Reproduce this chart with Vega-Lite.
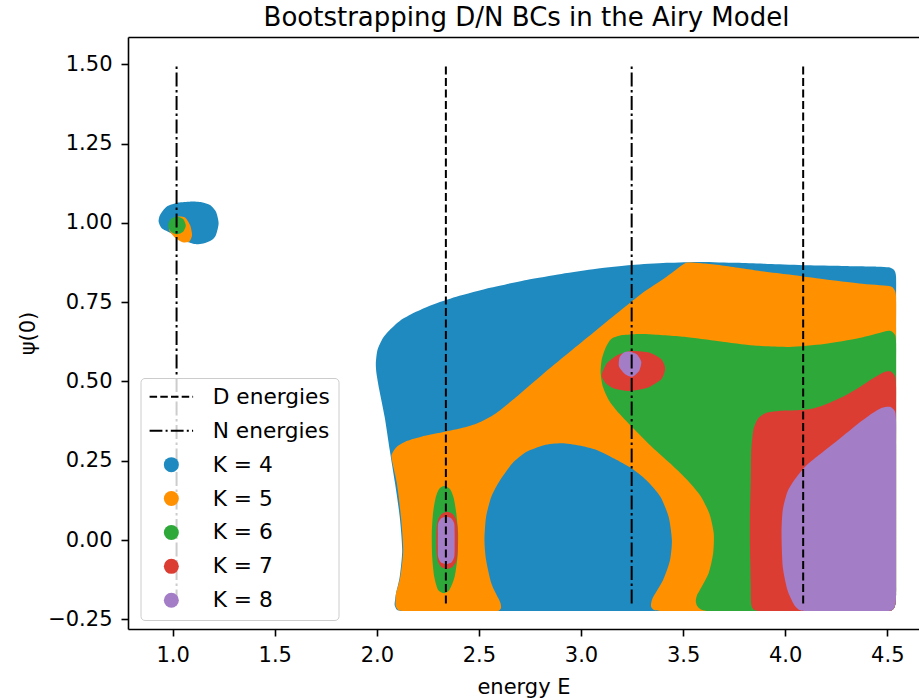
{
  "$schema": "https://vega.github.io/schema/vega-lite/v6.json",
  "autosize": "none",
  "width": 791,
  "height": 592,
  "padding": {"left": 128, "top": 37, "right": 0, "bottom": 71},
  "background": "white",
  "title": {"text": "Bootstrapping D/N BCs in the Airy Model", "font": "DejaVu Sans", "fontSize": 26, "fontWeight": "normal", "color": "black", "offset": 6, "dx": 3},
  "datasets": {
    "regions": [
      {"label":"K = 4","piece":"main","i":0,"E":2.098,"psi":-0.220},
      {"label":"K = 4","piece":"main","i":1,"E":2.087,"psi":-0.205},
      {"label":"K = 4","piece":"main","i":2,"E":2.090,"psi":-0.185},
      {"label":"K = 4","piece":"main","i":3,"E":2.094,"psi":-0.168},
      {"label":"K = 4","piece":"main","i":4,"E":2.112,"psi":-0.116},
      {"label":"K = 4","piece":"main","i":5,"E":2.124,"psi":-0.032},
      {"label":"K = 4","piece":"main","i":6,"E":2.112,"psi":0.073},
      {"label":"K = 4","piece":"main","i":7,"E":2.089,"psi":0.179},
      {"label":"K = 4","piece":"main","i":8,"E":2.063,"psi":0.284},
      {"label":"K = 4","piece":"main","i":9,"E":2.038,"psi":0.389},
      {"label":"K = 4","piece":"main","i":10,"E":2.012,"psi":0.473},
      {"label":"K = 4","piece":"main","i":11,"E":1.998,"psi":0.526},
      {"label":"K = 4","piece":"main","i":12,"E":1.995,"psi":0.557},
      {"label":"K = 4","piece":"main","i":13,"E":2.003,"psi":0.599},
      {"label":"K = 4","piece":"main","i":14,"E":2.029,"psi":0.636},
      {"label":"K = 4","piece":"main","i":15,"E":2.063,"psi":0.662},
      {"label":"K = 4","piece":"main","i":16,"E":2.115,"psi":0.692},
      {"label":"K = 4","piece":"main","i":17,"E":2.184,"psi":0.717},
      {"label":"K = 4","piece":"main","i":18,"E":2.269,"psi":0.741},
      {"label":"K = 4","piece":"main","i":19,"E":2.389,"psi":0.767},
      {"label":"K = 4","piece":"main","i":20,"E":2.561,"psi":0.796},
      {"label":"K = 4","piece":"main","i":21,"E":2.733,"psi":0.820},
      {"label":"K = 4","piece":"main","i":22,"E":2.904,"psi":0.839},
      {"label":"K = 4","piece":"main","i":23,"E":3.076,"psi":0.855},
      {"label":"K = 4","piece":"main","i":24,"E":3.247,"psi":0.867},
      {"label":"K = 4","piece":"main","i":25,"E":3.419,"psi":0.874},
      {"label":"K = 4","piece":"main","i":26,"E":3.590,"psi":0.877},
      {"label":"K = 4","piece":"main","i":27,"E":3.762,"psi":0.874},
      {"label":"K = 4","piece":"main","i":28,"E":3.934,"psi":0.870},
      {"label":"K = 4","piece":"main","i":29,"E":4.105,"psi":0.866},
      {"label":"K = 4","piece":"main","i":30,"E":4.277,"psi":0.864},
      {"label":"K = 4","piece":"main","i":31,"E":4.448,"psi":0.862},
      {"label":"K = 4","piece":"main","i":32,"E":4.508,"psi":0.860},
      {"label":"K = 4","piece":"main","i":33,"E":4.534,"psi":0.851},
      {"label":"K = 4","piece":"main","i":34,"E":4.543,"psi":0.830},
      {"label":"K = 4","piece":"main","i":35,"E":4.543,"psi":0.75},
      {"label":"K = 4","piece":"main","i":36,"E":4.543,"psi":0.67},
      {"label":"K = 4","piece":"main","i":37,"E":4.543,"psi":0.59},
      {"label":"K = 4","piece":"main","i":38,"E":4.543,"psi":0.51},
      {"label":"K = 4","piece":"main","i":39,"E":4.543,"psi":0.43},
      {"label":"K = 4","piece":"main","i":40,"E":4.543,"psi":0.35},
      {"label":"K = 4","piece":"main","i":41,"E":4.543,"psi":0.27},
      {"label":"K = 4","piece":"main","i":42,"E":4.543,"psi":0.19},
      {"label":"K = 4","piece":"main","i":43,"E":4.543,"psi":0.11},
      {"label":"K = 4","piece":"main","i":44,"E":4.543,"psi":0.03},
      {"label":"K = 4","piece":"main","i":45,"E":4.543,"psi":-0.05},
      {"label":"K = 4","piece":"main","i":46,"E":4.543,"psi":-0.12},
      {"label":"K = 4","piece":"main","i":47,"E":4.543,"psi":-0.17},
      {"label":"K = 4","piece":"main","i":48,"E":4.541,"psi":-0.198},
      {"label":"K = 4","piece":"main","i":49,"E":4.533,"psi":-0.215},
      {"label":"K = 4","piece":"main","i":50,"E":4.515,"psi":-0.223},
      {"label":"K = 4","piece":"main","i":51,"E":4.47,"psi":-0.224},
      {"label":"K = 4","piece":"main","i":52,"E":4.40,"psi":-0.224},
      {"label":"K = 4","piece":"main","i":53,"E":4.32,"psi":-0.224},
      {"label":"K = 4","piece":"main","i":54,"E":4.24,"psi":-0.224},
      {"label":"K = 4","piece":"main","i":55,"E":4.16,"psi":-0.224},
      {"label":"K = 4","piece":"main","i":56,"E":4.08,"psi":-0.224},
      {"label":"K = 4","piece":"main","i":57,"E":4.00,"psi":-0.224},
      {"label":"K = 4","piece":"main","i":58,"E":3.92,"psi":-0.224},
      {"label":"K = 4","piece":"main","i":59,"E":3.84,"psi":-0.224},
      {"label":"K = 4","piece":"main","i":60,"E":3.76,"psi":-0.224},
      {"label":"K = 4","piece":"main","i":61,"E":3.68,"psi":-0.224},
      {"label":"K = 4","piece":"main","i":62,"E":3.60,"psi":-0.224},
      {"label":"K = 4","piece":"main","i":63,"E":3.52,"psi":-0.224},
      {"label":"K = 4","piece":"main","i":64,"E":3.44,"psi":-0.224},
      {"label":"K = 4","piece":"main","i":65,"E":3.36,"psi":-0.224},
      {"label":"K = 4","piece":"main","i":66,"E":3.28,"psi":-0.224},
      {"label":"K = 4","piece":"main","i":67,"E":3.20,"psi":-0.224},
      {"label":"K = 4","piece":"main","i":68,"E":3.12,"psi":-0.224},
      {"label":"K = 4","piece":"main","i":69,"E":3.04,"psi":-0.224},
      {"label":"K = 4","piece":"main","i":70,"E":2.96,"psi":-0.224},
      {"label":"K = 4","piece":"main","i":71,"E":2.88,"psi":-0.224},
      {"label":"K = 4","piece":"main","i":72,"E":2.80,"psi":-0.224},
      {"label":"K = 4","piece":"main","i":73,"E":2.72,"psi":-0.224},
      {"label":"K = 4","piece":"main","i":74,"E":2.64,"psi":-0.224},
      {"label":"K = 4","piece":"main","i":75,"E":2.56,"psi":-0.224},
      {"label":"K = 4","piece":"main","i":76,"E":2.48,"psi":-0.224},
      {"label":"K = 4","piece":"main","i":77,"E":2.40,"psi":-0.224},
      {"label":"K = 4","piece":"main","i":78,"E":2.32,"psi":-0.224},
      {"label":"K = 4","piece":"main","i":79,"E":2.24,"psi":-0.224},
      {"label":"K = 4","piece":"main","i":80,"E":2.16,"psi":-0.224},
      {"label":"K = 4","piece":"main","i":81,"E":2.12,"psi":-0.224},
      {"label":"K = 4","piece":"bubble","i":0,"E":0.970,"psi":1.051},
      {"label":"K = 4","piece":"bubble","i":1,"E":1.028,"psi":1.064},
      {"label":"K = 4","piece":"bubble","i":2,"E":1.085,"psi":1.067},
      {"label":"K = 4","piece":"bubble","i":3,"E":1.142,"psi":1.065},
      {"label":"K = 4","piece":"bubble","i":4,"E":1.183,"psi":1.056},
      {"label":"K = 4","piece":"bubble","i":5,"E":1.212,"psi":1.035},
      {"label":"K = 4","piece":"bubble","i":6,"E":1.225,"psi":0.999},
      {"label":"K = 4","piece":"bubble","i":7,"E":1.212,"psi":0.962},
      {"label":"K = 4","piece":"bubble","i":8,"E":1.191,"psi":0.946},
      {"label":"K = 4","piece":"bubble","i":9,"E":1.150,"psi":0.935},
      {"label":"K = 4","piece":"bubble","i":10,"E":1.109,"psi":0.933},
      {"label":"K = 4","piece":"bubble","i":11,"E":1.068,"psi":0.941},
      {"label":"K = 4","piece":"bubble","i":12,"E":1.036,"psi":0.951},
      {"label":"K = 4","piece":"bubble","i":13,"E":0.987,"psi":0.969},
      {"label":"K = 4","piece":"bubble","i":14,"E":0.946,"psi":0.983},
      {"label":"K = 4","piece":"bubble","i":15,"E":0.931,"psi":1.004},
      {"label":"K = 4","piece":"bubble","i":16,"E":0.938,"psi":1.025},

      {"label":"K = 5","piece":"main","i":0,"E":2.105,"psi":-0.221},
      {"label":"K = 5","piece":"main","i":1,"E":2.092,"psi":-0.208},
      {"label":"K = 5","piece":"main","i":2,"E":2.092,"psi":-0.188},
      {"label":"K = 5","piece":"main","i":3,"E":2.094,"psi":-0.168},
      {"label":"K = 5","piece":"main","i":4,"E":2.115,"psi":-0.116},
      {"label":"K = 5","piece":"main","i":5,"E":2.129,"psi":-0.032},
      {"label":"K = 5","piece":"main","i":6,"E":2.118,"psi":0.073},
      {"label":"K = 5","piece":"main","i":7,"E":2.098,"psi":0.179},
      {"label":"K = 5","piece":"main","i":8,"E":2.077,"psi":0.242},
      {"label":"K = 5","piece":"main","i":9,"E":2.072,"psi":0.268},
      {"label":"K = 5","piece":"main","i":10,"E":2.098,"psi":0.294},
      {"label":"K = 5","piece":"main","i":11,"E":2.149,"psi":0.313},
      {"label":"K = 5","piece":"main","i":12,"E":2.218,"psi":0.326},
      {"label":"K = 5","piece":"main","i":13,"E":2.338,"psi":0.342},
      {"label":"K = 5","piece":"main","i":14,"E":2.441,"psi":0.357},
      {"label":"K = 5","piece":"main","i":15,"E":2.510,"psi":0.373},
      {"label":"K = 5","piece":"main","i":16,"E":2.578,"psi":0.397},
      {"label":"K = 5","piece":"main","i":17,"E":2.681,"psi":0.450},
      {"label":"K = 5","piece":"main","i":18,"E":2.818,"psi":0.526},
      {"label":"K = 5","piece":"main","i":19,"E":2.956,"psi":0.599},
      {"label":"K = 5","piece":"main","i":20,"E":3.076,"psi":0.662},
      {"label":"K = 5","piece":"main","i":21,"E":3.196,"psi":0.725},
      {"label":"K = 5","piece":"main","i":22,"E":3.299,"psi":0.778},
      {"label":"K = 5","piece":"main","i":23,"E":3.419,"psi":0.830},
      {"label":"K = 5","piece":"main","i":24,"E":3.496,"psi":0.867},
      {"label":"K = 5","piece":"main","i":25,"E":3.522,"psi":0.875},
      {"label":"K = 5","piece":"main","i":26,"E":3.590,"psi":0.873},
      {"label":"K = 5","piece":"main","i":27,"E":3.676,"psi":0.867},
      {"label":"K = 5","piece":"main","i":28,"E":3.848,"psi":0.851},
      {"label":"K = 5","piece":"main","i":29,"E":4.019,"psi":0.837},
      {"label":"K = 5","piece":"main","i":30,"E":4.191,"psi":0.822},
      {"label":"K = 5","piece":"main","i":31,"E":4.362,"psi":0.809},
      {"label":"K = 5","piece":"main","i":32,"E":4.508,"psi":0.801},
      {"label":"K = 5","piece":"main","i":33,"E":4.534,"psi":0.790},
      {"label":"K = 5","piece":"main","i":34,"E":4.543,"psi":0.767},
      {"label":"K = 5","piece":"main","i":35,"E":4.543,"psi":0.67},
      {"label":"K = 5","piece":"main","i":36,"E":4.543,"psi":0.59},
      {"label":"K = 5","piece":"main","i":37,"E":4.543,"psi":0.51},
      {"label":"K = 5","piece":"main","i":38,"E":4.543,"psi":0.43},
      {"label":"K = 5","piece":"main","i":39,"E":4.543,"psi":0.35},
      {"label":"K = 5","piece":"main","i":40,"E":4.543,"psi":0.27},
      {"label":"K = 5","piece":"main","i":41,"E":4.543,"psi":0.19},
      {"label":"K = 5","piece":"main","i":42,"E":4.543,"psi":0.11},
      {"label":"K = 5","piece":"main","i":43,"E":4.543,"psi":0.03},
      {"label":"K = 5","piece":"main","i":44,"E":4.543,"psi":-0.05},
      {"label":"K = 5","piece":"main","i":45,"E":4.543,"psi":-0.12},
      {"label":"K = 5","piece":"main","i":46,"E":4.543,"psi":-0.17},
      {"label":"K = 5","piece":"main","i":47,"E":4.541,"psi":-0.198},
      {"label":"K = 5","piece":"main","i":48,"E":4.533,"psi":-0.215},
      {"label":"K = 5","piece":"main","i":49,"E":4.515,"psi":-0.223},
      {"label":"K = 5","piece":"main","i":50,"E":4.47,"psi":-0.224},
      {"label":"K = 5","piece":"main","i":51,"E":4.40,"psi":-0.224},
      {"label":"K = 5","piece":"main","i":52,"E":4.32,"psi":-0.224},
      {"label":"K = 5","piece":"main","i":53,"E":4.24,"psi":-0.224},
      {"label":"K = 5","piece":"main","i":54,"E":4.16,"psi":-0.224},
      {"label":"K = 5","piece":"main","i":55,"E":4.08,"psi":-0.224},
      {"label":"K = 5","piece":"main","i":56,"E":4.00,"psi":-0.224},
      {"label":"K = 5","piece":"main","i":57,"E":3.92,"psi":-0.224},
      {"label":"K = 5","piece":"main","i":58,"E":3.84,"psi":-0.224},
      {"label":"K = 5","piece":"main","i":59,"E":3.76,"psi":-0.224},
      {"label":"K = 5","piece":"main","i":60,"E":3.68,"psi":-0.224},
      {"label":"K = 5","piece":"main","i":61,"E":3.60,"psi":-0.224},
      {"label":"K = 5","piece":"main","i":62,"E":3.52,"psi":-0.224},
      {"label":"K = 5","piece":"main","i":63,"E":3.44,"psi":-0.224},
      {"label":"K = 5","piece":"main","i":64,"E":3.39,"psi":-0.224},
      {"label":"K = 5","piece":"main","i":65,"E":3.357,"psi":-0.221},
      {"label":"K = 5","piece":"main","i":66,"E":3.343,"psi":-0.210},
      {"label":"K = 5","piece":"main","i":67,"E":3.345,"psi":-0.195},
      {"label":"K = 5","piece":"main","i":68,"E":3.354,"psi":-0.179},
      {"label":"K = 5","piece":"main","i":69,"E":3.402,"psi":-0.126},
      {"label":"K = 5","piece":"main","i":70,"E":3.436,"psi":-0.063},
      {"label":"K = 5","piece":"main","i":71,"E":3.445,"psi":0.000},
      {"label":"K = 5","piece":"main","i":72,"E":3.429,"psi":0.073},
      {"label":"K = 5","piece":"main","i":73,"E":3.388,"psi":0.137},
      {"label":"K = 5","piece":"main","i":74,"E":3.319,"psi":0.189},
      {"label":"K = 5","piece":"main","i":75,"E":3.247,"psi":0.226},
      {"label":"K = 5","piece":"main","i":76,"E":3.162,"psi":0.257},
      {"label":"K = 5","piece":"main","i":77,"E":3.076,"psi":0.284},
      {"label":"K = 5","piece":"main","i":78,"E":2.990,"psi":0.298},
      {"label":"K = 5","piece":"main","i":79,"E":2.904,"psi":0.305},
      {"label":"K = 5","piece":"main","i":80,"E":2.818,"psi":0.299},
      {"label":"K = 5","piece":"main","i":81,"E":2.733,"psi":0.278},
      {"label":"K = 5","piece":"main","i":82,"E":2.664,"psi":0.242},
      {"label":"K = 5","piece":"main","i":83,"E":2.604,"psi":0.189},
      {"label":"K = 5","piece":"main","i":84,"E":2.561,"psi":0.137},
      {"label":"K = 5","piece":"main","i":85,"E":2.535,"psi":0.073},
      {"label":"K = 5","piece":"main","i":86,"E":2.527,"psi":0.000},
      {"label":"K = 5","piece":"main","i":87,"E":2.535,"psi":-0.063},
      {"label":"K = 5","piece":"main","i":88,"E":2.561,"psi":-0.137},
      {"label":"K = 5","piece":"main","i":89,"E":2.595,"psi":-0.184},
      {"label":"K = 5","piece":"main","i":90,"E":2.606,"psi":-0.200},
      {"label":"K = 5","piece":"main","i":91,"E":2.608,"psi":-0.214},
      {"label":"K = 5","piece":"main","i":92,"E":2.596,"psi":-0.223},
      {"label":"K = 5","piece":"main","i":93,"E":2.56,"psi":-0.224},
      {"label":"K = 5","piece":"main","i":94,"E":2.48,"psi":-0.224},
      {"label":"K = 5","piece":"main","i":95,"E":2.40,"psi":-0.224},
      {"label":"K = 5","piece":"main","i":96,"E":2.32,"psi":-0.224},
      {"label":"K = 5","piece":"main","i":97,"E":2.24,"psi":-0.224},
      {"label":"K = 5","piece":"main","i":98,"E":2.16,"psi":-0.224},
      {"label":"K = 5","piece":"main","i":99,"E":2.125,"psi":-0.224},
      {"label":"K = 5","piece":"bubble","i":0,"E":0.987,"psi":1.004},
      {"label":"K = 5","piece":"bubble","i":1,"E":1.019,"psi":1.019},
      {"label":"K = 5","piece":"bubble","i":2,"E":1.060,"psi":1.017},
      {"label":"K = 5","piece":"bubble","i":3,"E":1.085,"psi":0.993},
      {"label":"K = 5","piece":"bubble","i":4,"E":1.095,"psi":0.962},
      {"label":"K = 5","piece":"bubble","i":5,"E":1.081,"psi":0.941},
      {"label":"K = 5","piece":"bubble","i":6,"E":1.049,"psi":0.939},
      {"label":"K = 5","piece":"bubble","i":7,"E":1.011,"psi":0.954},
      {"label":"K = 5","piece":"bubble","i":8,"E":0.983,"psi":0.977},

      {"label":"K = 6","piece":"main","i":0,"E":3.162,"psi":0.639},
      {"label":"K = 6","piece":"main","i":1,"E":3.196,"psi":0.646},
      {"label":"K = 6","piece":"main","i":2,"E":3.264,"psi":0.649},
      {"label":"K = 6","piece":"main","i":3,"E":3.333,"psi":0.649},
      {"label":"K = 6","piece":"main","i":4,"E":3.505,"psi":0.641},
      {"label":"K = 6","piece":"main","i":5,"E":3.676,"psi":0.627},
      {"label":"K = 6","piece":"main","i":6,"E":3.848,"psi":0.613},
      {"label":"K = 6","piece":"main","i":7,"E":4.019,"psi":0.609},
      {"label":"K = 6","piece":"main","i":8,"E":4.191,"psi":0.618},
      {"label":"K = 6","piece":"main","i":9,"E":4.362,"psi":0.637},
      {"label":"K = 6","piece":"main","i":10,"E":4.483,"psi":0.657},
      {"label":"K = 6","piece":"main","i":11,"E":4.517,"psi":0.659},
      {"label":"K = 6","piece":"main","i":12,"E":4.539,"psi":0.646},
      {"label":"K = 6","piece":"main","i":13,"E":4.543,"psi":0.620},
      {"label":"K = 6","piece":"main","i":14,"E":4.543,"psi":0.56},
      {"label":"K = 6","piece":"main","i":15,"E":4.543,"psi":0.49},
      {"label":"K = 6","piece":"main","i":16,"E":4.543,"psi":0.42},
      {"label":"K = 6","piece":"main","i":17,"E":4.543,"psi":0.35},
      {"label":"K = 6","piece":"main","i":18,"E":4.543,"psi":0.27},
      {"label":"K = 6","piece":"main","i":19,"E":4.543,"psi":0.19},
      {"label":"K = 6","piece":"main","i":20,"E":4.543,"psi":0.11},
      {"label":"K = 6","piece":"main","i":21,"E":4.543,"psi":0.03},
      {"label":"K = 6","piece":"main","i":22,"E":4.543,"psi":-0.05},
      {"label":"K = 6","piece":"main","i":23,"E":4.543,"psi":-0.12},
      {"label":"K = 6","piece":"main","i":24,"E":4.543,"psi":-0.17},
      {"label":"K = 6","piece":"main","i":25,"E":4.541,"psi":-0.198},
      {"label":"K = 6","piece":"main","i":26,"E":4.533,"psi":-0.215},
      {"label":"K = 6","piece":"main","i":27,"E":4.515,"psi":-0.223},
      {"label":"K = 6","piece":"main","i":28,"E":4.47,"psi":-0.224},
      {"label":"K = 6","piece":"main","i":29,"E":4.40,"psi":-0.224},
      {"label":"K = 6","piece":"main","i":30,"E":4.32,"psi":-0.224},
      {"label":"K = 6","piece":"main","i":31,"E":4.24,"psi":-0.224},
      {"label":"K = 6","piece":"main","i":32,"E":4.16,"psi":-0.224},
      {"label":"K = 6","piece":"main","i":33,"E":4.08,"psi":-0.224},
      {"label":"K = 6","piece":"main","i":34,"E":4.00,"psi":-0.224},
      {"label":"K = 6","piece":"main","i":35,"E":3.92,"psi":-0.224},
      {"label":"K = 6","piece":"main","i":36,"E":3.84,"psi":-0.224},
      {"label":"K = 6","piece":"main","i":37,"E":3.76,"psi":-0.224},
      {"label":"K = 6","piece":"main","i":38,"E":3.68,"psi":-0.224},
      {"label":"K = 6","piece":"main","i":39,"E":3.64,"psi":-0.224},
      {"label":"K = 6","piece":"main","i":40,"E":3.61,"psi":-0.223},
      {"label":"K = 6","piece":"main","i":41,"E":3.585,"psi":-0.218},
      {"label":"K = 6","piece":"main","i":42,"E":3.568,"psi":-0.207},
      {"label":"K = 6","piece":"main","i":43,"E":3.562,"psi":-0.192},
      {"label":"K = 6","piece":"main","i":44,"E":3.568,"psi":-0.174},
      {"label":"K = 6","piece":"main","i":45,"E":3.582,"psi":-0.158},
      {"label":"K = 6","piece":"main","i":46,"E":3.625,"psi":-0.105},
      {"label":"K = 6","piece":"main","i":47,"E":3.647,"psi":-0.042},
      {"label":"K = 6","piece":"main","i":48,"E":3.650,"psi":0.021},
      {"label":"K = 6","piece":"main","i":49,"E":3.628,"psi":0.084},
      {"label":"K = 6","piece":"main","i":50,"E":3.582,"psi":0.142},
      {"label":"K = 6","piece":"main","i":51,"E":3.513,"psi":0.194},
      {"label":"K = 6","piece":"main","i":52,"E":3.436,"psi":0.242},
      {"label":"K = 6","piece":"main","i":53,"E":3.350,"psi":0.292},
      {"label":"K = 6","piece":"main","i":54,"E":3.264,"psi":0.347},
      {"label":"K = 6","piece":"main","i":55,"E":3.187,"psi":0.399},
      {"label":"K = 6","piece":"main","i":56,"E":3.136,"psi":0.441},
      {"label":"K = 6","piece":"main","i":57,"E":3.107,"psi":0.483},
      {"label":"K = 6","piece":"main","i":58,"E":3.096,"psi":0.526},
      {"label":"K = 6","piece":"main","i":59,"E":3.101,"psi":0.568},
      {"label":"K = 6","piece":"main","i":60,"E":3.119,"psi":0.604},
      {"label":"K = 6","piece":"main","i":61,"E":3.141,"psi":0.629},
      {"label":"K = 6","piece":"d","i":0,"E":2.329,"psi":0.170},
      {"label":"K = 6","piece":"d","i":1,"E":2.359,"psi":0.160},
      {"label":"K = 6","piece":"d","i":2,"E":2.377,"psi":0.131},
      {"label":"K = 6","piece":"d","i":3,"E":2.389,"psi":0.084},
      {"label":"K = 6","piece":"d","i":4,"E":2.398,"psi":0.021},
      {"label":"K = 6","piece":"d","i":5,"E":2.395,"psi":-0.053},
      {"label":"K = 6","piece":"d","i":6,"E":2.381,"psi":-0.116},
      {"label":"K = 6","piece":"d","i":7,"E":2.355,"psi":-0.158},
      {"label":"K = 6","piece":"d","i":8,"E":2.329,"psi":-0.168},
      {"label":"K = 6","piece":"d","i":9,"E":2.300,"psi":-0.158},
      {"label":"K = 6","piece":"d","i":10,"E":2.281,"psi":-0.116},
      {"label":"K = 6","piece":"d","i":11,"E":2.271,"psi":-0.053},
      {"label":"K = 6","piece":"d","i":12,"E":2.269,"psi":0.021},
      {"label":"K = 6","piece":"d","i":13,"E":2.275,"psi":0.084},
      {"label":"K = 6","piece":"d","i":14,"E":2.287,"psi":0.131},
      {"label":"K = 6","piece":"d","i":15,"E":2.304,"psi":0.160},
      {"label":"K = 6","piece":"bubble","i":0,"E":1.064,"psi":0.992},
      {"label":"K = 6","piece":"bubble","i":1,"E":1.051,"psi":1.012},
      {"label":"K = 6","piece":"bubble","i":2,"E":1.021,"psi":1.020},
      {"label":"K = 6","piece":"bubble","i":3,"E":0.991,"psi":1.012},
      {"label":"K = 6","piece":"bubble","i":4,"E":0.978,"psi":0.992},
      {"label":"K = 6","piece":"bubble","i":5,"E":0.991,"psi":0.972},
      {"label":"K = 6","piece":"bubble","i":6,"E":1.021,"psi":0.964},
      {"label":"K = 6","piece":"bubble","i":7,"E":1.051,"psi":0.972},

      {"label":"K = 7","piece":"main","i":0,"E":3.868,"psi":-0.224},
      {"label":"K = 7","piece":"main","i":1,"E":3.848,"psi":-0.221},
      {"label":"K = 7","piece":"main","i":2,"E":3.836,"psi":-0.210},
      {"label":"K = 7","piece":"main","i":3,"E":3.832,"psi":-0.190},
      {"label":"K = 7","piece":"main","i":4,"E":3.831,"psi":-0.137},
      {"label":"K = 7","piece":"main","i":5,"E":3.829,"psi":-0.070},
      {"label":"K = 7","piece":"main","i":6,"E":3.827,"psi":0.000},
      {"label":"K = 7","piece":"main","i":7,"E":3.827,"psi":0.073},
      {"label":"K = 7","piece":"main","i":8,"E":3.829,"psi":0.130},
      {"label":"K = 7","piece":"main","i":9,"E":3.831,"psi":0.179},
      {"label":"K = 7","piece":"main","i":10,"E":3.832,"psi":0.230},
      {"label":"K = 7","piece":"main","i":11,"E":3.834,"psi":0.284},
      {"label":"K = 7","piece":"main","i":12,"E":3.844,"psi":0.347},
      {"label":"K = 7","piece":"main","i":13,"E":3.868,"psi":0.384},
      {"label":"K = 7","piece":"main","i":14,"E":3.908,"psi":0.401},
      {"label":"K = 7","piece":"main","i":15,"E":3.968,"psi":0.407},
      {"label":"K = 7","piece":"main","i":16,"E":4.054,"psi":0.409},
      {"label":"K = 7","piece":"main","i":17,"E":4.122,"psi":0.413},
      {"label":"K = 7","piece":"main","i":18,"E":4.191,"psi":0.426},
      {"label":"K = 7","piece":"main","i":19,"E":4.277,"psi":0.450},
      {"label":"K = 7","piece":"main","i":20,"E":4.362,"psi":0.481},
      {"label":"K = 7","piece":"main","i":21,"E":4.431,"psi":0.510},
      {"label":"K = 7","piece":"main","i":22,"E":4.483,"psi":0.529},
      {"label":"K = 7","piece":"main","i":23,"E":4.517,"psi":0.531},
      {"label":"K = 7","piece":"main","i":24,"E":4.539,"psi":0.515},
      {"label":"K = 7","piece":"main","i":25,"E":4.543,"psi":0.483},
      {"label":"K = 7","piece":"main","i":26,"E":4.543,"psi":0.42},
      {"label":"K = 7","piece":"main","i":27,"E":4.543,"psi":0.35},
      {"label":"K = 7","piece":"main","i":28,"E":4.543,"psi":0.27},
      {"label":"K = 7","piece":"main","i":29,"E":4.543,"psi":0.19},
      {"label":"K = 7","piece":"main","i":30,"E":4.543,"psi":0.11},
      {"label":"K = 7","piece":"main","i":31,"E":4.543,"psi":0.03},
      {"label":"K = 7","piece":"main","i":32,"E":4.543,"psi":-0.05},
      {"label":"K = 7","piece":"main","i":33,"E":4.543,"psi":-0.12},
      {"label":"K = 7","piece":"main","i":34,"E":4.543,"psi":-0.17},
      {"label":"K = 7","piece":"main","i":35,"E":4.541,"psi":-0.198},
      {"label":"K = 7","piece":"main","i":36,"E":4.533,"psi":-0.215},
      {"label":"K = 7","piece":"main","i":37,"E":4.515,"psi":-0.223},
      {"label":"K = 7","piece":"main","i":38,"E":4.47,"psi":-0.224},
      {"label":"K = 7","piece":"main","i":39,"E":4.40,"psi":-0.224},
      {"label":"K = 7","piece":"main","i":40,"E":4.32,"psi":-0.224},
      {"label":"K = 7","piece":"main","i":41,"E":4.24,"psi":-0.224},
      {"label":"K = 7","piece":"main","i":42,"E":4.16,"psi":-0.224},
      {"label":"K = 7","piece":"main","i":43,"E":4.08,"psi":-0.224},
      {"label":"K = 7","piece":"main","i":44,"E":4.00,"psi":-0.224},
      {"label":"K = 7","piece":"main","i":45,"E":3.92,"psi":-0.224},
      {"label":"K = 7","piece":"d","i":0,"E":2.345,"psi":0.089},
      {"label":"K = 7","piece":"d","i":1,"E":2.372,"psi":0.082},
      {"label":"K = 7","piece":"d","i":2,"E":2.389,"psi":0.063},
      {"label":"K = 7","piece":"d","i":3,"E":2.396,"psi":0.031},
      {"label":"K = 7","piece":"d","i":4,"E":2.396,"psi":-0.032},
      {"label":"K = 7","piece":"d","i":5,"E":2.389,"psi":-0.068},
      {"label":"K = 7","piece":"d","i":6,"E":2.369,"psi":-0.086},
      {"label":"K = 7","piece":"d","i":7,"E":2.345,"psi":-0.091},
      {"label":"K = 7","piece":"d","i":8,"E":2.317,"psi":-0.086},
      {"label":"K = 7","piece":"d","i":9,"E":2.299,"psi":-0.068},
      {"label":"K = 7","piece":"d","i":10,"E":2.292,"psi":-0.032},
      {"label":"K = 7","piece":"d","i":11,"E":2.292,"psi":0.031},
      {"label":"K = 7","piece":"d","i":12,"E":2.299,"psi":0.063},
      {"label":"K = 7","piece":"d","i":13,"E":2.317,"psi":0.082},
      {"label":"K = 7","piece":"n","i":0,"E":3.101,"psi":0.520},
      {"label":"K = 7","piece":"n","i":1,"E":3.127,"psi":0.557},
      {"label":"K = 7","piece":"n","i":2,"E":3.179,"psi":0.583},
      {"label":"K = 7","piece":"n","i":3,"E":3.247,"psi":0.596},
      {"label":"K = 7","piece":"n","i":4,"E":3.333,"psi":0.591},
      {"label":"K = 7","piece":"n","i":5,"E":3.393,"psi":0.570},
      {"label":"K = 7","piece":"n","i":6,"E":3.412,"psi":0.541},
      {"label":"K = 7","piece":"n","i":7,"E":3.393,"psi":0.507},
      {"label":"K = 7","piece":"n","i":8,"E":3.325,"psi":0.480},
      {"label":"K = 7","piece":"n","i":9,"E":3.239,"psi":0.470},
      {"label":"K = 7","piece":"n","i":10,"E":3.162,"psi":0.478},
      {"label":"K = 7","piece":"n","i":11,"E":3.119,"psi":0.496},

      {"label":"K = 8","piece":"main","i":0,"E":4.095,"psi":-0.224},
      {"label":"K = 8","piece":"main","i":1,"E":4.070,"psi":-0.221},
      {"label":"K = 8","piece":"main","i":2,"E":4.050,"psi":-0.210},
      {"label":"K = 8","piece":"main","i":3,"E":4.032,"psi":-0.190},
      {"label":"K = 8","piece":"main","i":4,"E":4.011,"psi":-0.158},
      {"label":"K = 8","piece":"main","i":5,"E":3.988,"psi":-0.084},
      {"label":"K = 8","piece":"main","i":6,"E":3.982,"psi":0.021},
      {"label":"K = 8","piece":"main","i":7,"E":3.988,"psi":0.094},
      {"label":"K = 8","piece":"main","i":8,"E":4.011,"psi":0.152},
      {"label":"K = 8","piece":"main","i":9,"E":4.045,"psi":0.189},
      {"label":"K = 8","piece":"main","i":10,"E":4.097,"psi":0.231},
      {"label":"K = 8","piece":"main","i":11,"E":4.165,"psi":0.268},
      {"label":"K = 8","piece":"main","i":12,"E":4.242,"psi":0.307},
      {"label":"K = 8","piece":"main","i":13,"E":4.328,"psi":0.352},
      {"label":"K = 8","piece":"main","i":14,"E":4.414,"psi":0.394},
      {"label":"K = 8","piece":"main","i":15,"E":4.474,"psi":0.417},
      {"label":"K = 8","piece":"main","i":16,"E":4.514,"psi":0.420},
      {"label":"K = 8","piece":"main","i":17,"E":4.538,"psi":0.405},
      {"label":"K = 8","piece":"main","i":18,"E":4.543,"psi":0.373},
      {"label":"K = 8","piece":"main","i":19,"E":4.543,"psi":0.30},
      {"label":"K = 8","piece":"main","i":20,"E":4.543,"psi":0.22},
      {"label":"K = 8","piece":"main","i":21,"E":4.543,"psi":0.14},
      {"label":"K = 8","piece":"main","i":22,"E":4.543,"psi":0.06},
      {"label":"K = 8","piece":"main","i":23,"E":4.543,"psi":-0.02},
      {"label":"K = 8","piece":"main","i":24,"E":4.543,"psi":-0.10},
      {"label":"K = 8","piece":"main","i":25,"E":4.543,"psi":-0.17},
      {"label":"K = 8","piece":"main","i":26,"E":4.541,"psi":-0.198},
      {"label":"K = 8","piece":"main","i":27,"E":4.533,"psi":-0.215},
      {"label":"K = 8","piece":"main","i":28,"E":4.515,"psi":-0.223},
      {"label":"K = 8","piece":"main","i":29,"E":4.47,"psi":-0.224},
      {"label":"K = 8","piece":"main","i":30,"E":4.40,"psi":-0.224},
      {"label":"K = 8","piece":"main","i":31,"E":4.32,"psi":-0.224},
      {"label":"K = 8","piece":"main","i":32,"E":4.24,"psi":-0.224},
      {"label":"K = 8","piece":"main","i":33,"E":4.16,"psi":-0.224},
      {"label":"K = 8","piece":"d","i":0,"E":2.340,"psi":0.073},
      {"label":"K = 8","piece":"d","i":1,"E":2.365,"psi":0.068},
      {"label":"K = 8","piece":"d","i":2,"E":2.379,"psi":0.052},
      {"label":"K = 8","piece":"d","i":3,"E":2.381,"psi":0.021},
      {"label":"K = 8","piece":"d","i":4,"E":2.381,"psi":-0.021},
      {"label":"K = 8","piece":"d","i":5,"E":2.379,"psi":-0.053},
      {"label":"K = 8","piece":"d","i":6,"E":2.365,"psi":-0.071},
      {"label":"K = 8","piece":"d","i":7,"E":2.340,"psi":-0.076},
      {"label":"K = 8","piece":"d","i":8,"E":2.314,"psi":-0.071},
      {"label":"K = 8","piece":"d","i":9,"E":2.300,"psi":-0.053},
      {"label":"K = 8","piece":"d","i":10,"E":2.299,"psi":-0.021},
      {"label":"K = 8","piece":"d","i":11,"E":2.299,"psi":0.021},
      {"label":"K = 8","piece":"d","i":12,"E":2.300,"psi":0.052},
      {"label":"K = 8","piece":"d","i":13,"E":2.314,"psi":0.068},
      {"label":"K = 8","piece":"n","i":0,"E":3.239,"psi":0.594},
      {"label":"K = 8","piece":"n","i":1,"E":3.273,"psi":0.586},
      {"label":"K = 8","piece":"n","i":2,"E":3.295,"psi":0.562},
      {"label":"K = 8","piece":"n","i":3,"E":3.285,"psi":0.534},
      {"label":"K = 8","piece":"n","i":4,"E":3.251,"psi":0.515},
      {"label":"K = 8","piece":"n","i":5,"E":3.216,"psi":0.523},
      {"label":"K = 8","piece":"n","i":6,"E":3.186,"psi":0.547},
      {"label":"K = 8","piece":"n","i":7,"E":3.189,"psi":0.576},
      {"label":"K = 8","piece":"n","i":8,"E":3.210,"psi":0.591}
    ],
    "lines": [
      {"E": 1.019, "label": "N energies"},
      {"E": 2.338, "label": "D energies"},
      {"E": 3.248, "label": "N energies"},
      {"E": 4.088, "label": "D energies"}
    ]
  },
  "layer": [
    {
      "data": {"name": "regions"},
      "transform": [{"filter": "datum.label === 'K = 4'"}],
      "mark": {"type": "line", "filled": true, "interpolate": "cardinal-closed", "tension": 0.3},
      "encoding": {
        "x": {"field": "E", "type": "quantitative", "scale": {"domain": [0.7811, 4.6553], "nice": false, "zero": false},
              "axis": {"orient": "bottom", "values": [1, 1.5, 2, 2.5, 3, 3.5, 4, 4.5], "format": ".1f", "title": "energy E", "labelPadding": 8, "titlePadding": 11, "labelFlush": false, "labelOverlap": false}},
        "y": {"field": "psi", "type": "quantitative", "scale": {"domain": [-0.2806, 1.5861], "nice": false, "zero": false},
              "axis": {"values": [-0.25, 0, 0.25, 0.5, 0.75, 1, 1.25, 1.5], "format": ".2f", "title": "ψ(0)", "labelPadding": 9, "titlePadding": 9, "labelFlush": false, "labelOverlap": false}},
        "color": {"field": "label", "type": "nominal",
          "scale": {"domain": ["D energies", "N energies", "K = 4", "K = 5", "K = 6", "K = 7", "K = 8"],
                    "range": ["black", "black", "#1f8ac0", "#ff9100", "#2fa83a", "#dc3d33", "#a47dc7"]},
          "legend": {
            "title": null, "orient": "none", "legendX": 12.5, "legendY": 341, "padding": 8, "rowPadding": 10.9,
            "labelFont": "DejaVu Sans", "labelFontSize": 21.7, "labelColor": "black", "labelOffset": 30.5, "labelLimit": 400,
            "symbolOffset": 12, "symbolSize": 225,
            "strokeColor": "#cccccc", "fillColor": "rgba(255,255,255,0.8)", "cornerRadius": 4,
            "encode": {
              "symbols": {
                "update": {
                  "shape": {"signal": "(datum.value === 'D energies' || datum.value === 'N energies') ? 'M-2.9,0H2.9' : 'circle'"},
                  "fill": {"signal": "(datum.value === 'D energies' || datum.value === 'N energies') ? 'transparent' : scale('color', datum.value)"},
                  "stroke": {"signal": "(datum.value === 'D energies' || datum.value === 'N energies') ? 'black' : 'transparent'"},
                  "strokeDash": {"signal": "datum.value === 'D energies' ? [7.5, 3.2] : (datum.value === 'N energies' ? [12.8, 3.2, 2, 3.2] : [1, 0])"},
                  "strokeWidth": {"signal": "(datum.value === 'D energies' || datum.value === 'N energies') ? 2 : 0"},
                  "opacity": {"value": 1}
                }
              }
            }
          }
        },
        "detail": {"field": "piece"},
        "order": {"field": "i", "type": "quantitative"}
      }
    },
    {
      "data": {"name": "regions"},
      "transform": [{"filter": "datum.label === 'K = 5'"}],
      "mark": {"type": "line", "filled": true, "interpolate": "cardinal-closed", "tension": 0.3},
      "encoding": {
        "x": {"field": "E", "type": "quantitative", "axis": null},
        "y": {"field": "psi", "type": "quantitative"},
        "color": {"field": "label", "type": "nominal"},
        "detail": {"field": "piece"},
        "order": {"field": "i", "type": "quantitative"}
      }
    },
    {
      "data": {"name": "regions"},
      "transform": [{"filter": "datum.label === 'K = 6'"}],
      "mark": {"type": "line", "filled": true, "interpolate": "cardinal-closed", "tension": 0.3},
      "encoding": {
        "x": {"field": "E", "type": "quantitative", "axis": null},
        "y": {"field": "psi", "type": "quantitative"},
        "color": {"field": "label", "type": "nominal"},
        "detail": {"field": "piece"},
        "order": {"field": "i", "type": "quantitative"}
      }
    },
    {
      "data": {"name": "regions"},
      "transform": [{"filter": "datum.label === 'K = 7'"}],
      "mark": {"type": "line", "filled": true, "interpolate": "cardinal-closed", "tension": 0.3},
      "encoding": {
        "x": {"field": "E", "type": "quantitative", "axis": null},
        "y": {"field": "psi", "type": "quantitative"},
        "color": {"field": "label", "type": "nominal"},
        "detail": {"field": "piece"},
        "order": {"field": "i", "type": "quantitative"}
      }
    },
    {
      "data": {"name": "regions"},
      "transform": [{"filter": "datum.label === 'K = 8'"}],
      "mark": {"type": "line", "filled": true, "interpolate": "cardinal-closed", "tension": 0.3},
      "encoding": {
        "x": {"field": "E", "type": "quantitative", "axis": null},
        "y": {"field": "psi", "type": "quantitative"},
        "color": {"field": "label", "type": "nominal"},
        "detail": {"field": "piece"},
        "order": {"field": "i", "type": "quantitative"}
      }
    },
    {
      "data": {"name": "lines"},
      "mark": {"type": "rule", "strokeWidth": 2},
      "encoding": {
        "x": {"field": "E", "type": "quantitative", "scale": {"domain": [0.7811, 4.6553], "nice": false, "zero": false},
              "axis": {"orient": "top", "labels": false, "ticks": false, "title": null, "domain": true}},
        "y": {"datum": -0.2, "type": "quantitative"},
        "y2": {"datum": 1.5},
        "color": {"field": "label", "type": "nominal"},
        "strokeDash": {"field": "label", "type": "nominal",
          "scale": {"domain": ["D energies", "N energies"], "range": [[8, 3.5], [14, 3.5, 2.5, 3.5]]},
          "legend": null}
      }
    }
  ],
  "resolve": {"axis": {"x": "independent"}},
  "config": {
    "font": "DejaVu Sans",
    "view": {"stroke": null},
    "axis": {
      "grid": false, "domainColor": "black", "domainWidth": 1.6, "tickColor": "black", "tickWidth": 1.6, "tickSize": 7,
      "labelFont": "DejaVu Sans", "labelFontSize": 21, "labelColor": "black",
      "titleFont": "DejaVu Sans", "titleFontSize": 21, "titleFontWeight": "normal", "titleColor": "black"
    }
  }
}
